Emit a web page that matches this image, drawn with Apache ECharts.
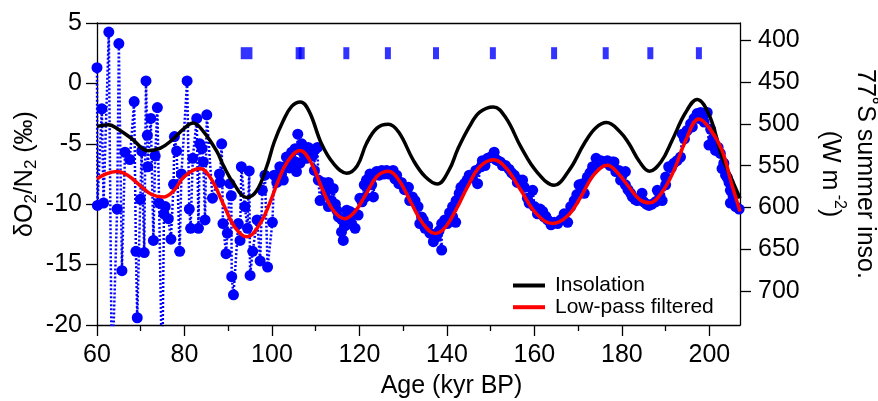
<!DOCTYPE html>
<html><head><meta charset="utf-8">
<script src="https://cdn.jsdelivr.net/npm/echarts@6/dist/echarts.min.js"></script>
<style>html,body{margin:0;padding:0;background:#fff}#c{width:878px;height:401px}</style>
</head><body><div id="c"></div>
<script>
// ---- data ----
const ageTicks = [60, 80, 100, 120, 140, 160, 180, 200];
const ageMinorTicks = [70, 90, 110, 130, 150, 170, 190];
const insoTicks = [400, 450, 500, 550, 600, 650, 700];

// δO2/N2 measurements (age kyr BP, ‰)
const o2n2Age = [60.0,60.1,61.1,61.5,62.7,63.4,64.6,65.0,65.7,66.4,67.5,68.5,68.9,69.2,69.9,70.2,70.8,71.2,71.5,71.6,72.3,72.9,73.3,73.8,74.2,74.9,75.3,75.6,76.3,76.9,77.5,77.7,78.2,78.9,79.3,80.6,81.1,81.4,81.9,82.8,83.2,83.5,84.0,84.3,84.7,85.1,86.4,88.0,88.1,88.5,88.8,89.5,89.8,90.4,90.7,90.8,91.2,92.3,92.7,93.0,93.8,94.4,94.8,95.0,95.6,96.6,97.3,97.8,98.4,99.0,100.1,100.5,101.1,101.8,
102.2,102.6,103.0,103.3,104.0,104.5,104.9,105.3,105.6,105.9,106.4,106.8,107.3,107.9,108.3,108.7,109.3,109.7,109.8,110.4,110.6,111.0,111.7,112.3,112.9,112.9,113.6,114.0,114.5,114.8,115.2,115.9,116.0,116.3,116.7,117.1,117.5,117.8,118.2,118.6,119.0,119.0,119.7,120.1,120.6,121.1,121.4,121.6,122.0,122.4,122.8,123.2,123.5,123.9,124.5,125.1,125.6,126.2,126.8,127.2,127.7,128.1,128.5,129.0,129.6,130.3,131.2,131.5,132.1,132.7,133.4,133.8,134.2,134.6,135.0,135.6,136.1,136.9,137.3,137.6,138.2,138.8,138.8,139.5,140.1,140.6,141.3,141.3,142.0,142.1,142.8,143.2,144.0,144.6,145.1,145.8,146.6,147.0,147.8,148.1,148.7,149.3,150.0,150.8,151.2,151.6,152.2,152.7,153.4,154.2,154.8,155.4,156.1,156.6,157.3,157.7,158.4,158.8,159.6,160.0,160.7,161.3,161.9,162.2,162.6,163.0,163.8,164.5,165.3,166.0,166.4,166.8,167.6,168.3,169.1,169.7,170.2,171.0,171.4,172.1,172.7,173.3,174.1,174.7,175.2,176.0,176.7,177.3,177.9,178.2,178.6,179.3,179.7,180.2,180.8,180.8,181.4,182.0,182.4,183.0,183.5,184.1,184.6,185.0,185.6,186.2,186.9,187.7,188.1,188.7,189.2,190.0,190.0,190.7,191.3,191.9,192.6,193.4,193.8,194.3,194.9,195.7,196.1,196.5,197.2,197.6,198.0,198.8,199.5,199.9,200.3,200.8,201.4,202.0,202.5,202.9,203.3,203.7,204.1,204.5,204.8,204.8,205.4,206.0,206.8];
const o2n2Val = [1.3,-10.1,-2.1,-9.9,4.25,-25,-10.4,3.3,-15.5,-5.7,-6.3,-1.5,-13.9,-19.4,-9.6,-5.6,-14.0,0.2,-4.3,-6.9,-2.9,-13.0,-6.0,-2.0,-9.9,-25,-10.8,-10.2,-11.2,-12.9,-8.35,-4.4,-5.6,-13.9,-7.5,0.2,-10.4,-12.0,-6.2,-2.9,-12.0,-5.0,-5.4,-6.5,-11.3,-2.6,-9.5,-7.5,-8.2,-5.0,-11.6,-14.1,-12.4,-8.3,-9.3,-16.0,-17.5,-11.6,-13.0,-6.9,-10.2,-12.0,-7.25,-15.9,-13.9,-11.3,-14.7,-8.85,-7.6,-15.2,-11.5,-7.6,-8.2,-6.9,
-7.5,-8.0,-6.9,-6.1,-7.0,-5.7,-6.5,-5.4,-7.3,-4.2,-6.6,-5.0,-5.8,-6.2,-5.3,-5.5,-6.0,-7.2,-5.5,-5.3,-8.0,-9.7,-8.2,-9.0,-8.2,-10.2,-9.7,-8.7,-10.0,-10.5,-11.05,-12.3,-11.3,-13.0,-11.8,-10.5,-11.2,-10.6,-11.6,-10.8,-12.0,-10.8,-10.9,-9.5,-9.8,-8.4,-9.4,-8.0,-7.9,-7.5,-8.4,-9.4,-7.6,-7.3,-7.6,-7.2,-7.5,-7.2,-7.5,-7.3,-7.2,-7.9,-7.6,-8.3,-8.2,-8.8,-8.6,-9.7,-9.4,-9.7,-10.2,-11.6,-11.05,-11.3,-12.0,-11.8,-12.4,-13.1,-12.6,-12.7,-12.2,-13.8,-11.6,-11.3,-11.6,-10.7,-11.05,-10.2,-11.5,-9.7,-9.1,-8.6,-8.3,-8.0,-7.6,-7.8,-7.2,-8.3,-6.9,-6.4,-6.8,-6.2,-6.1,-5.7,-6.3,-6.4,-6.5,-6.8,-6.8,-7.1,-7.4,-7.6,-8.2,-8.0,-8.0,-8.6,-9.5,-9.9,-8.85,-10.2,-10.8,-10.4,-10.6,-11.05,-11.0,-11.3,-11.7,-11.5,-11.6,-11.3,-11.2,-10.8,-11.5,-10.2,-9.7,-9.2,-8.4,-8.3,-9.1,-7.75,-7.4,-6.9,-6.2,-6.6,-6.4,-6.5,-6.4,-6.8,-6.5,-6.5,-7.3,-7.2,-8.0,-7.5,-7.3,-8.4,-8.8,-9.1,-9.4,-9.6,-9.7,-9.5,-9.1,-9.8,-10.0,-10.1,-10.0,-9.8,-8.85,-9.3,-9.7,-8.4,-7.75,-6.9,-7.0,-6.6,-6.4,-6.1,-4.2,-4.6,-3.9,-3.35,-3.6,-2.9,-2.5,-2.9,-2.4,-3.2,-2.4,-5.1,-3.8,-4.6,-5.55,-5.3,-5.8,-7.05,-6.6,-7.6,-7.8,-8.2,-8.85,-9.9,-9.3,-10.2,-10.4];

// Low-pass filtered δO2/N2
const filtAge = [60,62,64.5,67,70,72.5,75.2,77.5,80,83.5,86,88.9,91.5,94.3,97.3,99.5,101.4,103.5,106.4,109,111.3,114,116.7,119,121.6,124,126.6,129,131.9,134.5,137.3,139.4,142,144.7,147.5,150.7,153.5,156.9,160.5,164.1,167.5,170.6,173.5,176.7,179,181.6,184,186.3,189,191.9,194.5,197.6,200,202.9,205,207];
const filtVal = [-7.9,-7.5,-7.3,-7.6,-8.5,-9.2,-9.4,-8.9,-7.7,-7.05,-7.85,-10.0,-11.9,-12.7,-11.6,-9.9,-8.1,-6.5,-5.55,-6.6,-8.57,-10.5,-11.2,-10.6,-9.1,-7.7,-7.28,-8.0,-9.94,-11.6,-12.42,-12.0,-10.5,-8.57,-6.9,-6.32,-7.0,-8.85,-10.8,-11.6,-11.0,-9.4,-7.6,-6.78,-7.4,-8.57,-9.6,-9.89,-9.1,-7.2,-4.8,-2.94,-3.7,-5.55,-8.2,-10.6];

// 77°S summer insolation (W m-2)
const insoAge = [60,62.6,65,67.9,71.7,74.5,77.1,80,82,84.3,87.4,88.9,91.2,94.2,96.5,98.8,100.5,102.6,104.5,106.5,108.5,111.3,114,117.1,119.5,121.6,124,126.6,129,132.3,135,137.8,140.5,142.5,145.1,147.5,150.6,153.5,156.9,160.5,164.5,168,171.4,174,176.5,179.6,181.6,184,186.3,189,191.5,194.5,197.2,200,202.9,205,207];
const insoVal = [503,501,507,517.5,532,529,519.5,505,499,509,533,550,571,588,580,551,522,496,479,473.7,485,523.5,547,559,550,523.5,505,500.4,510,543.4,563,572,555,530,503.6,486,479.7,493,527.5,557,573.3,555,523.5,505,498.4,509.6,523.5,545,556.6,545,519.5,487,470.7,490,539.5,565,589];

// age control points (top row)
const ctrlAge = [93.55,94.85,106.1,106.8,117.0,126.5,137.5,150.5,164.5,176.3,186.5,197.6];
const ctrlVal = [2.5,2.5,2.5,2.5,2.5,2.5,2.5,2.5,2.5,2.5,2.5,2.5];

// ---- chart ----
const FONT = 'Liberation Sans, Arial, Helvetica, sans-serif';
const zip = (a, b) => a.map((v, i) => [v, b[i]]);
const chart = echarts.init(document.getElementById('c'), null, {renderer: 'canvas'});
const axisLineStyle = {color: '#000', width: 1.3};
chart.setOption({
  animation: false,
  backgroundColor: '#fff',
  grid: {left: 97, right: 138, top: 23, bottom: 76, containLabel: false, outerBoundsMode: 'none'},
  legend: {
    data: ['Insolation', 'Low-pass filtered'],
    orient: 'vertical', left: 513, top: 275, padding: 0,
    icon: 'rect', itemWidth: 32, itemHeight: 4, itemGap: 0.7,
    textStyle: {fontFamily: FONT, fontSize: 21, color: '#000', lineHeight: 18, padding: [0, 0, 0, 5]}
  },
  xAxis: [
    {
      type: 'value', position: 'bottom', min: 60, max: 207,
      axisLine: {show: true, onZero: false, lineStyle: axisLineStyle},
      axisTick: {show: true, inside: false, length: 11, customValues: ageTicks, lineStyle: axisLineStyle},
      axisLabel: {show: true, customValues: ageTicks, margin: 18, fontFamily: FONT, fontSize: 25, color: '#000'},
      splitLine: {show: false},
      name: 'Age (kyr BP)', nameLocation: 'middle', nameGap: 49, nameMoveOverlap: false,
      nameTextStyle: {fontFamily: FONT, fontSize: 25, color: '#000', padding: [0, 0, 0, 66]}
    },
    {
      type: 'value', position: 'bottom', min: 60, max: 207,
      axisLine: {show: false, onZero: false},
      axisTick: {show: true, inside: false, length: 6, customValues: ageMinorTicks, lineStyle: axisLineStyle},
      axisLabel: {show: false}, splitLine: {show: false}
    },
    {
      type: 'value', position: 'top', min: 60, max: 207,
      axisLine: {show: true, onZero: false, lineStyle: axisLineStyle},
      axisTick: {show: false}, axisLabel: {show: false}, splitLine: {show: false}
    }
  ],
  yAxis: [
    {
      type: 'value', position: 'left', min: -20, max: 5, interval: 5,
      axisLine: {show: true, onZero: false, lineStyle: axisLineStyle},
      axisTick: {show: true, inside: false, length: 11, lineStyle: axisLineStyle},
      axisLabel: {margin: 15, fontFamily: FONT, fontSize: 25, color: '#000'},
      splitLine: {show: false},
      name: '{a|δO}{s|2}{a|/N}{s|2}{a| (‰)}', nameLocation: 'middle', nameGap: 57, nameRotate: 90,
      nameMoveOverlap: false,
      nameTextStyle: {
        color: '#000',
        rich: {
          a: {fontFamily: FONT, fontSize: 25, lineHeight: 30, color: '#000'},
          s: {fontFamily: FONT, fontSize: 17, lineHeight: 17, verticalAlign: 'bottom', color: '#000'}
        }
      }
    },
    {
      type: 'value', position: 'right', inverse: true, min: 379.3, max: 740.6,
      axisLine: {show: true, onZero: false, lineStyle: axisLineStyle},
      axisTick: {show: true, inside: false, length: 11, customValues: insoTicks, lineStyle: axisLineStyle},
      axisLabel: {customValues: insoTicks, margin: 18, fontFamily: FONT, fontSize: 25, color: '#000'},
      splitLine: {show: false},
      name: '{a|77˚S summer inso.}\n{a|(W m}{p| -2}{a|)}', nameLocation: 'middle', nameGap: 72, nameRotate: -90,
      nameMoveOverlap: false,
      nameTextStyle: {
        color: '#000', align: 'center',
        rich: {
          a: {fontFamily: FONT, fontSize: 25, lineHeight: 35, color: '#000'},
          p: {fontFamily: FONT, fontSize: 16, lineHeight: 16, verticalAlign: 'top', color: '#000'}
        }
      }
    }
  ],
  series: [
    {
      name: 'δO2/N2', type: 'line', xAxisIndex: 0, yAxisIndex: 0,
      data: zip(o2n2Age, o2n2Val), clip: true,
      symbol: 'circle', symbolSize: 11, showSymbol: true, showAllSymbol: true,
      itemStyle: {color: '#0000ff'},
      lineStyle: {color: '#0000ff', width: 2.5, type: [2, 2]},
      silent: true, z: 2
    },
    {
      name: 'ctrl', type: 'scatter', xAxisIndex: 0, yAxisIndex: 0,
      data: zip(ctrlAge, ctrlVal),
      symbol: 'rect', symbolSize: [6, 12], itemStyle: {color: '#0000ff'}, silent: true, z: 2
    },
    {
      name: 'Insolation', type: 'line', xAxisIndex: 0, yAxisIndex: 1,
      data: zip(insoAge, insoVal), smooth: 0.4, showSymbol: false, clip: true,
      itemStyle: {color: '#000'}, lineStyle: {color: '#000', width: 3.5}, silent: true, z: 3
    },
    {
      name: 'Low-pass filtered', type: 'line', xAxisIndex: 0, yAxisIndex: 0,
      data: zip(filtAge, filtVal), smooth: 0.4, showSymbol: false, clip: true,
      itemStyle: {color: '#ff0000'}, lineStyle: {color: '#ff0000', width: 3.5}, silent: true, z: 4
    }
  ]
});
</script>
</body></html>
